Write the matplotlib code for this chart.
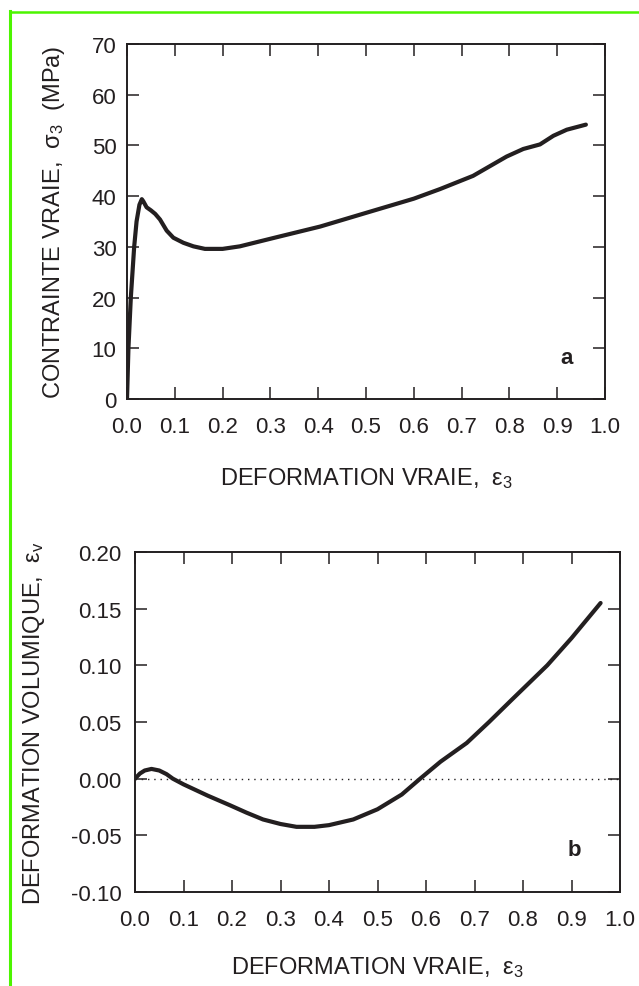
import matplotlib
matplotlib.use("Agg")
import matplotlib.pyplot as plt
from matplotlib.lines import Line2D

plt.rcParams['font.family'] = ['Liberation Sans', 'DejaVu Sans']
plt.rcParams['mathtext.fontset'] = 'custom'
plt.rcParams['mathtext.rm'] = 'Liberation Sans'
plt.rcParams['mathtext.it'] = 'Liberation Sans'
plt.rcParams['mathtext.bf'] = 'Liberation Sans:bold'

# ---- data ----
strain_a = [0.0, 0.003, 0.008, 0.015, 0.020, 0.026, 0.031, 0.034, 0.041, 0.050, 0.059, 0.069, 0.083,
            0.097, 0.118, 0.139, 0.163, 0.200, 0.236, 0.313, 0.404, 0.500, 0.600,
            0.655, 0.724, 0.794, 0.829, 0.864, 0.892, 0.920, 0.960]
stress_a = [0.0, 10.0, 20.0, 30.0, 35.0, 38.3, 39.4, 39.0, 37.8, 37.2, 36.5, 35.4, 33.2,
            31.8, 30.8, 30.1, 29.6, 29.6, 30.1, 31.9, 34.0, 36.7, 39.5,
            41.4, 44.0, 47.8, 49.3, 50.2, 51.9, 53.1, 54.1]

strain_b = [0.0, 0.010, 0.020, 0.034, 0.050, 0.065, 0.078, 0.100, 0.150, 0.196, 0.230, 0.264,
            0.300, 0.333, 0.370, 0.400, 0.450, 0.500, 0.550, 0.588, 0.630, 0.684, 0.730,
            0.777, 0.850, 0.900, 0.960]
volstrain_b = [0.0, 0.0045, 0.0072, 0.0086, 0.0072, 0.0040, 0.0, -0.005, -0.015, -0.0235, -0.030, -0.036,
               -0.040, -0.0425, -0.0425, -0.041, -0.036, -0.027, -0.014, 0.0, 0.015, 0.0315, 0.050,
               0.0697, 0.100, 0.124, 0.155]

xticks = [0.0, 0.1, 0.2, 0.3, 0.4, 0.5, 0.6, 0.7, 0.8, 0.9, 1.0]
xticklabels = ['0.0', '0.1', '0.2', '0.3', '0.4', '0.5', '0.6', '0.7', '0.8', '0.9', '1.0']
yticks_a = [0, 10, 20, 30, 40, 50, 60, 70]
yticks_b = [-0.10, -0.05, 0.00, 0.05, 0.10, 0.15, 0.20]
yticklabels_b = ['-0.10', '-0.05', '0.00', '0.05', '0.10', '0.15', '0.20']

ink = '#231f20'
green = '#4cf500'

W, H = 639, 987
fig = plt.figure(figsize=(W / 100, H / 100), dpi=100)

def frac(l, t, r, b):
    return [l / W, 1 - b / H, (r - l) / W, (b - t) / H]

ax1 = fig.add_axes(frac(127, 45, 605, 400))
ax2 = fig.add_axes(frac(135, 553, 620, 893))

def style(ax, ypad):
    for s in ax.spines.values():
        s.set_linewidth(1.4)
        s.set_color(ink)
    ax.tick_params(direction='in', length=8.6, width=1.1, color=ink,
                   top=True, right=True, labelsize=16, labelcolor=ink)
    ax.tick_params(axis='x', pad=12.5)
    ax.tick_params(axis='y', pad=ypad)
    ax.set_xlim(0, 1.0)
    ax.set_xticks(xticks)
    ax.set_xticklabels(xticklabels)

# ---- panel a ----
ax1.plot(strain_a, stress_a, color=ink, lw=3.0, solid_capstyle='round', solid_joinstyle='round')
style(ax1, 7.5)
ax1.set_ylim(0, 70)
ax1.set_yticks(yticks_a)
ax1.set_xlabel('DEFORMATION VRAIE,  ε$_3$', fontsize=17, color=ink)
ax1.xaxis.set_label_coords(0.5, -0.22)
ax1.xaxis.label.set_va('center')
ax1.set_ylabel('CONTRAINTE VRAIE,  σ$_3$  (MPa)', fontsize=17, color=ink)
ax1.yaxis.set_label_coords(-0.153, 0.5)
ax1.yaxis.label.set_va('center')
ax1.text(0.92, 0.118, 'a', transform=ax1.transAxes, fontsize=16, fontweight='bold',
         color=ink, ha='center', va='center')

# ---- panel b ----
ax2.axhline(0.0, color=ink, lw=1.0, ls=(0, (1, 3.5)))
ax2.plot(strain_b, volstrain_b, color=ink, lw=3.0, solid_capstyle='round', solid_joinstyle='round')
style(ax2, 9.5)
ax2.set_ylim(-0.10, 0.20)
ax2.set_yticks(yticks_b)
ax2.set_yticklabels(yticklabels_b)
ax2.set_xlabel('DEFORMATION VRAIE,  ε$_3$', fontsize=17, color=ink)
ax2.xaxis.set_label_coords(0.5, -0.22)
ax2.xaxis.label.set_va('center')
ax2.set_ylabel('DEFORMATION VOLUMIQUE,  ε$_\\mathrm{v}$', fontsize=17, color=ink)
ax2.yaxis.set_label_coords(-0.208, 0.5)
ax2.yaxis.label.set_va('center')
ax2.text(0.905, 0.125, 'b', transform=ax2.transAxes, fontsize=16, fontweight='bold',
         color=ink, ha='center', va='center')

# ---- green frame ----
fig.add_artist(Line2D([9.5 / W, 1.0], [1 - 12.8 / H, 1 - 12.8 / H],
                      transform=fig.transFigure, color=green, lw=1.8))
fig.add_artist(Line2D([9.5 / W, 9.5 / W], [1 - 12.0 / H, 0.0],
                      transform=fig.transFigure, color=green, lw=2.2))

fig.savefig('out.png', dpi=100)
